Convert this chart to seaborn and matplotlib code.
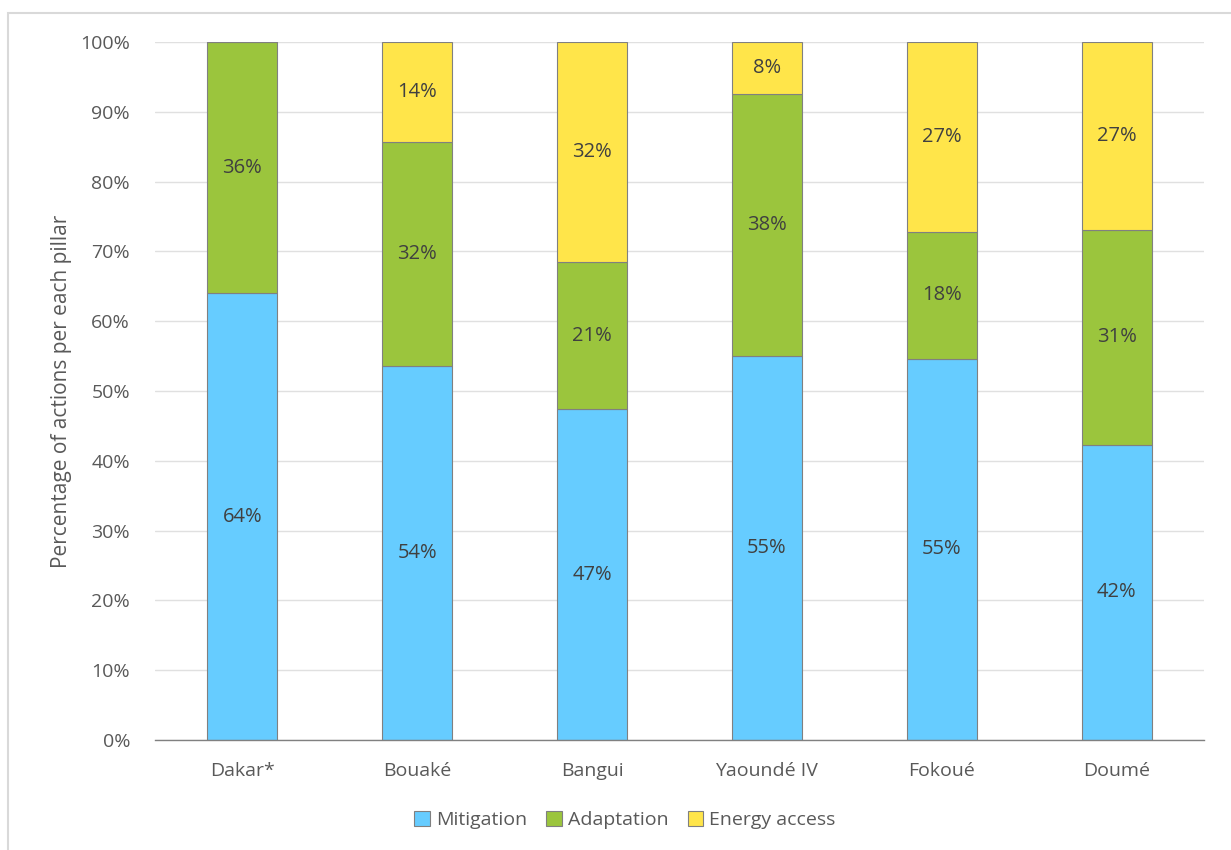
import matplotlib
matplotlib.use("Agg")
import matplotlib.pyplot as plt
from matplotlib.patches import Rectangle, Patch
import seaborn as sns
import numpy as np
import pandas as pd

cities = ["Dakar*", "Bouaké", "Bangui", "Yaoundé IV", "Fokoué", "Doumé"]
mitigation = [64.0, 53.6, 47.4, 55.0, 54.6, 42.3]
adaptation = [36.0, 32.1, 21.1, 37.5, 18.2, 30.8]
energy = [0.0, 14.3, 31.5, 7.5, 27.2, 26.9]
series_names = ["Mitigation", "Adaptation", "Energy access"]
colors = ["#66CCFF", "#9BC53D", "#FFE54A"]
yticks = [0, 10, 20, 30, 40, 50, 60, 70, 80, 90, 100]

sns.set_theme(style="white")
plt.rcParams["font.family"] = ["Open Sans", "DejaVu Sans"]
txt = "#595959"

fig = plt.figure(figsize=(12.31, 8.5), dpi=100)
ax = fig.add_axes([155/1231, 1-740/850, (1204-155)/1231, (740-42)/850])

fig.patches.append(Rectangle((8/1231, -0.05), 1.1, 1-13/850+0.05, transform=fig.transFigure,
                             fill=False, edgecolor="#D9D9D9", linewidth=1.5))

df = pd.DataFrame({"city": cities, "Mitigation": mitigation,
                   "Adaptation": adaptation, "Energy access": energy})
bottom = np.zeros(len(cities))
for name, col in zip(series_names, colors):
    vals = df[name].to_numpy()
    sns.barplot(x=df["city"], y=vals, bottom=bottom, color=col, width=0.4,
                edgecolor="#808080", linewidth=0.8, ax=ax, saturation=1)
    for i, (v, b) in enumerate(zip(vals, bottom)):
        if v > 0:
            ax.text(i, b + v / 2, f"{round(v):.0f}%", ha="center", va="center",
                    fontsize=14.5, color="#404040")
    bottom = bottom + vals

ax.set_ylim(0, 100)
ax.set_xlim(-0.5, 5.5)
ax.set_yticks(yticks)
ax.set_yticklabels([f"{t}%" for t in yticks], fontsize=14, color=txt)
ax.tick_params(axis="x", labelsize=14, labelcolor=txt, pad=10)
ax.tick_params(axis="y", pad=18, length=0)
ax.set_xlabel("")
ax.set_ylabel("Percentage of actions per each pillar", fontsize=15, color=txt, labelpad=6)
ax.yaxis.grid(True, color="#E0E0E0", linewidth=1)
ax.set_axisbelow(True)
for s in ["top", "right", "left"]:
    ax.spines[s].set_visible(False)
ax.spines["bottom"].set_color("#808080")
ax.spines["bottom"].set_linewidth(1)
if ax.get_legend() is not None:
    ax.get_legend().remove()

handles = [Patch(facecolor=c, edgecolor="#808080", linewidth=0.8) for c in colors]
fig.legend(handles, series_names, loc="center", bbox_to_anchor=(625/1231, 1-820/850),
           ncol=3, frameon=False, fontsize=14, labelcolor=txt, handlelength=0.8,
           handleheight=0.8, handletextpad=0.3, columnspacing=1.0)

fig.savefig("out.png", dpi=100)
